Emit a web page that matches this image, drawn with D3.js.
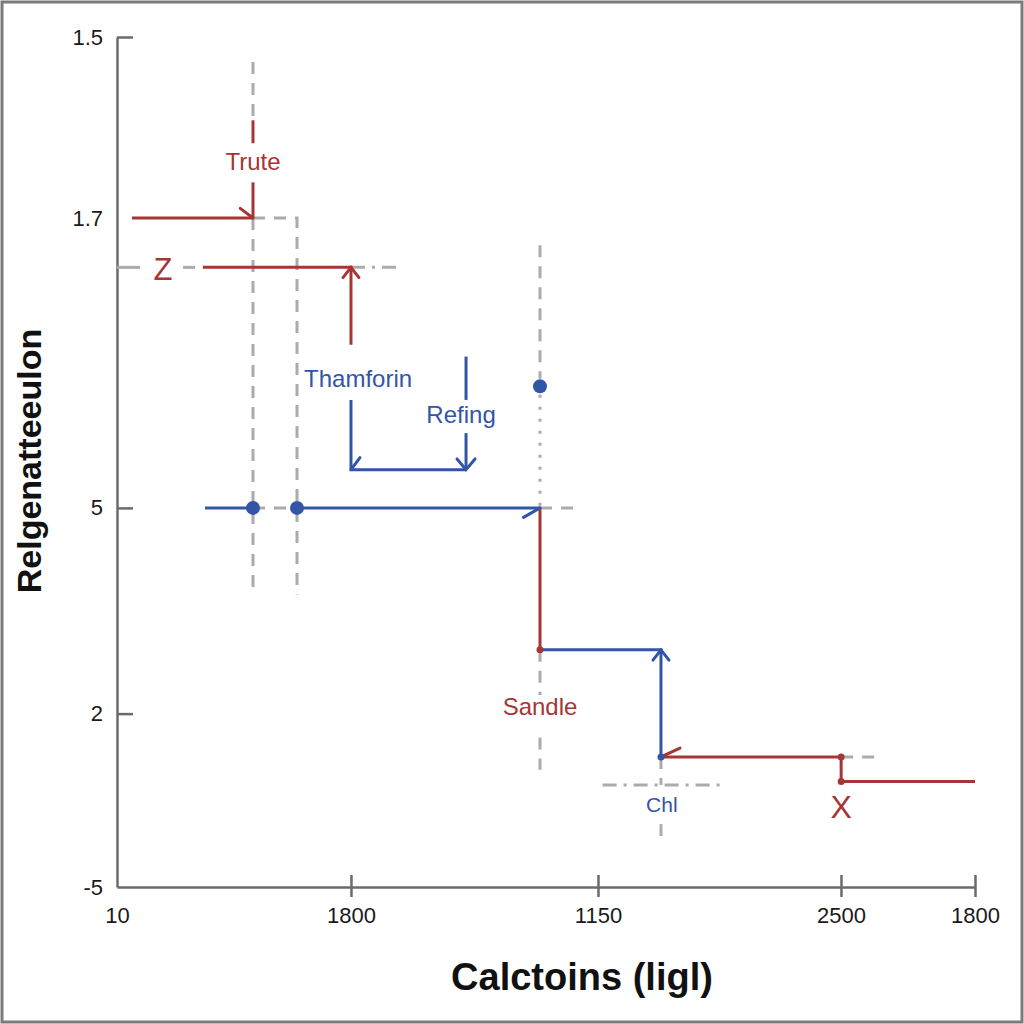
<!DOCTYPE html>
<html><head><meta charset="utf-8">
<script src="https://cdn.jsdelivr.net/npm/d3@7"></script>
<style>html,body{margin:0;padding:0;background:#fff;} svg{display:block;}</style>
</head><body>
<svg id="chart" width="1024" height="1024"></svg>
<script>
// ---- data (units: position along axis, 0-100) ----
const xTickPos = [0, 27.27, 56.06, 84.38, 100];
const xTickLabels = ["10", "1800", "1150", "2500", "1800"];
const yTickPos = [100, 78.7, 44.6, 20.4, 0];
const yTickLabels = ["1.5", "1.7", "5", "2", "-5"];

const redPaths = [
  [[1.75, 78.7], [15.85, 78.7]],
  [[15.85, 90.2], [15.85, 87.5]],
  [[15.85, 82.9], [15.85, 78.7]],
  [[10.0, 72.9], [27.27, 72.9], [27.27, 63.8]],
  [[49.3, 44.6], [49.3, 27.9]],
  [[63.4, 15.3], [84.4, 15.3], [84.4, 12.4], [100, 12.4]]
];
const redDots = [[49.3, 27.9], [84.4, 15.3], [84.4, 12.4]];

const bluePaths = [
  [[10.26, 44.6], [15.85, 44.6]],
  [[20.98, 44.6], [49.3, 44.6]],
  [[27.27, 57.3], [27.27, 49.1], [40.68, 49.1]],
  [[40.68, 62.4], [40.68, 57.3]],
  [[40.68, 53.4], [40.68, 49.1]],
  [[49.3, 27.9], [63.4, 27.9], [63.4, 15.3]]
];
const blueDotsBig = [[15.85, 44.6], [20.98, 44.6], [49.3, 58.9]];
const blueDotsSmall = [[63.4, 15.3]];

const grayDashed = [
  [[15.85, 97.06], [15.85, 90.2]],
  [[15.85, 78.7], [15.85, 34.4]],
  [[15.85, 78.7], [20.98, 78.7], [20.98, 34.4]],
  [[15.85, 44.6], [20.98, 44.6]],
  [[7.7, 72.9], [9.2, 72.9]],
  [[49.3, 75.5], [49.3, 59.8]],
  [[49.3, 27.9], [49.3, 22.6]],
  [[49.3, 17.6], [49.3, 13.8]],
  [[63.4, 15.3], [63.4, 12.0]],
  [[63.4, 7.4], [63.4, 5.5]],
  [[84.4, 15.3], [88.3, 15.3]],
  [[49.3, 44.6], [53.6, 44.6]]
];
const graySolid = [
  [[0, 72.9], [2.7, 72.9]]
];
const grayDotted = [
  [[49.3, 57.9], [49.3, 44.6]]
];
const grayDashDot = [
  [[27.27, 72.9], [32.75, 72.9]],
  [[56.6, 12.0], [70.5, 12.0]]
];

// arrows: tip, from, wings (+1 / -1 side), color
const arrows = [
  {tip: [15.85, 78.7], from: [1.75, 78.7], wings: [1], len: 16, ang: 37, c: "red"},
  {tip: [27.27, 72.9], from: [27.27, 63.8], wings: [1, -1], len: 13, ang: 38, c: "red"},
  {tip: [27.27, 49.1], from: [27.27, 57.3], wings: [1], len: 15, ang: 37, c: "blue"},
  {tip: [40.68, 49.1], from: [40.68, 53.4], wings: [1, -1], len: 14, ang: 40, c: "blue"},
  {tip: [49.3, 44.6], from: [20.98, 44.6], wings: [-1], len: 19, ang: 30, c: "blue"},
  {tip: [63.4, 27.9], from: [63.4, 15.3], wings: [1, -1], len: 13, ang: 38, c: "blue"},
  {tip: [63.4, 15.3], from: [84.4, 15.3], wings: [-1], len: 21, ang: 25, c: "red"}
];

const labels = [
  {t: "Trute", x: 15.85, y: 84.35, c: "red", s: 24},
  {t: "Z", x: 5.36, y: 71.4, c: "red", s: 31},
  {t: "Thamforin", x: 28.1, y: 58.8, c: "blue", s: 24},
  {t: "Refing", x: 40.1, y: 54.6, c: "blue", s: 24},
  {t: "Sandle", x: 49.3, y: 20.2, c: "red", s: 24},
  {t: "Chl", x: 63.5, y: 8.8, c: "blue", s: 21},
  {t: "X", x: 84.4, y: 8.1, c: "red", s: 32}
];

// ---- drawing ----
const COL = {red: "#a63636", blue: "#3355a5", gray: "#ababab", axis: "#6b6b6b"};
const svg = d3.select("#chart");
const x = d3.scaleLinear().domain([0, 100]).range([117, 975]);
const y = d3.scaleLinear().domain([0, 100]).range([887, 37]);
const line = d3.line().x(d => x(d[0])).y(d => y(d[1]));

svg.append("rect").attr("x", 2).attr("y", 2).attr("width", 1020).attr("height", 1020)
  .attr("fill", "#fff").attr("stroke", "#7a7a7a").attr("stroke-width", 3);

const font = "'Liberation Sans', Arial, Helvetica, sans-serif";

// axes
const xAxis = d3.axisBottom(x).tickValues(xTickPos).tickFormat((d, i) => xTickLabels[i])
  .tickSizeOuter(0).tickSizeInner(10);
const gx = svg.append("g").attr("transform", "translate(0,887)").call(xAxis);
gx.selectAll(".tick line").attr("y1", -12).attr("y2", 10);
gx.selectAll(".tick").filter((d, i) => i === 0).select("line").remove();
gx.selectAll(".tick text").attr("y", 36).attr("dy", 0);

const yAxis = d3.axisLeft(y).tickValues(yTickPos).tickFormat((d, i) => yTickLabels[i])
  .tickSizeOuter(0).tickSizeInner(-16).tickPadding(14);
const gy = svg.append("g").attr("transform", "translate(117,0)").call(yAxis);
gy.selectAll(".tick").filter((d, i) => i === 1 || i === 4).select("line").remove();

[gx, gy].forEach(g => {
  g.select(".domain").attr("stroke", COL.axis).attr("stroke-width", 2.5);
  g.selectAll(".tick line").attr("stroke", COL.axis).attr("stroke-width", 2.5);
  g.selectAll(".tick text").attr("fill", "#1a1a1a").style("font-family", font).style("font-size", "22px");
});

// gray reference lines
const gGray = svg.append("g").attr("fill", "none").attr("stroke", COL.gray).attr("stroke-width", 3);
gGray.selectAll("path.d").data(grayDashed).join("path").attr("d", line).attr("stroke-dasharray", "12,9");
gGray.selectAll("path.s").data(graySolid).join("path").attr("d", line);
gGray.selectAll("path.o").data(grayDotted).join("path").attr("d", line).attr("stroke-dasharray", "3,9");
gGray.selectAll("path.dd").data(grayDashDot).join("path").attr("d", line).attr("stroke-dasharray", "14,7,3,7");

// series lines
function drawPaths(data, color) {
  svg.append("g").attr("fill", "none").attr("stroke", color).attr("stroke-width", 3)
    .selectAll("path").data(data).join("path").attr("d", line);
}
drawPaths(redPaths, COL.red);
drawPaths(bluePaths, COL.blue);

// arrowheads
svg.append("g").attr("fill", "none").attr("stroke-width", 3).attr("stroke-linecap", "round")
  .selectAll("path").data(arrows).join("path")
  .attr("stroke", d => COL[d.c])
  .attr("d", d => {
    const tx = x(d.tip[0]), ty = y(d.tip[1]);
    let dx = tx - x(d.from[0]), dy = ty - y(d.from[1]);
    const n = Math.hypot(dx, dy); dx /= n; dy /= n;
    const a = d.ang * Math.PI / 180;
    const pts = d.wings.map(s => {
      const rx = dx * Math.cos(s * a) - dy * Math.sin(s * a);
      const ry = dx * Math.sin(s * a) + dy * Math.cos(s * a);
      return [tx - d.len * rx, ty - d.len * ry];
    });
    if (pts.length === 1) return `M${pts[0][0]},${pts[0][1]}L${tx},${ty}`;
    return `M${pts[0][0]},${pts[0][1]}L${tx},${ty}L${pts[1][0]},${pts[1][1]}`;
  });

// dots
svg.append("g").selectAll("circle").data(blueDotsBig).join("circle")
  .attr("cx", d => x(d[0])).attr("cy", d => y(d[1])).attr("r", 7).attr("fill", COL.blue);
svg.append("g").selectAll("circle").data(blueDotsSmall).join("circle")
  .attr("cx", d => x(d[0])).attr("cy", d => y(d[1])).attr("r", 3.5).attr("fill", COL.blue);
svg.append("g").selectAll("circle").data(redDots).join("circle")
  .attr("cx", d => x(d[0])).attr("cy", d => y(d[1])).attr("r", 3.5).attr("fill", COL.red);

// annotation labels
svg.append("g").selectAll("text").data(labels).join("text")
  .attr("x", d => x(d.x)).attr("y", d => y(d.y)).attr("text-anchor", "middle")
  .attr("fill", d => COL[d.c]).style("font-family", font).style("font-size", d => d.s + "px")
  .text(d => d.t);

// axis titles
svg.append("text").attr("x", 582).attr("y", 990).attr("text-anchor", "middle")
  .style("font-family", font).style("font-weight", "bold").style("font-size", "38px")
  .attr("fill", "#111").text("Calctoins (ligl)");
svg.append("text").attr("transform", "translate(41,461) rotate(-90)").attr("text-anchor", "middle")
  .style("font-family", font).style("font-weight", "bold").style("font-size", "34px")
  .attr("fill", "#111").text("Relgenatteeulon");
</script>
</body></html>
